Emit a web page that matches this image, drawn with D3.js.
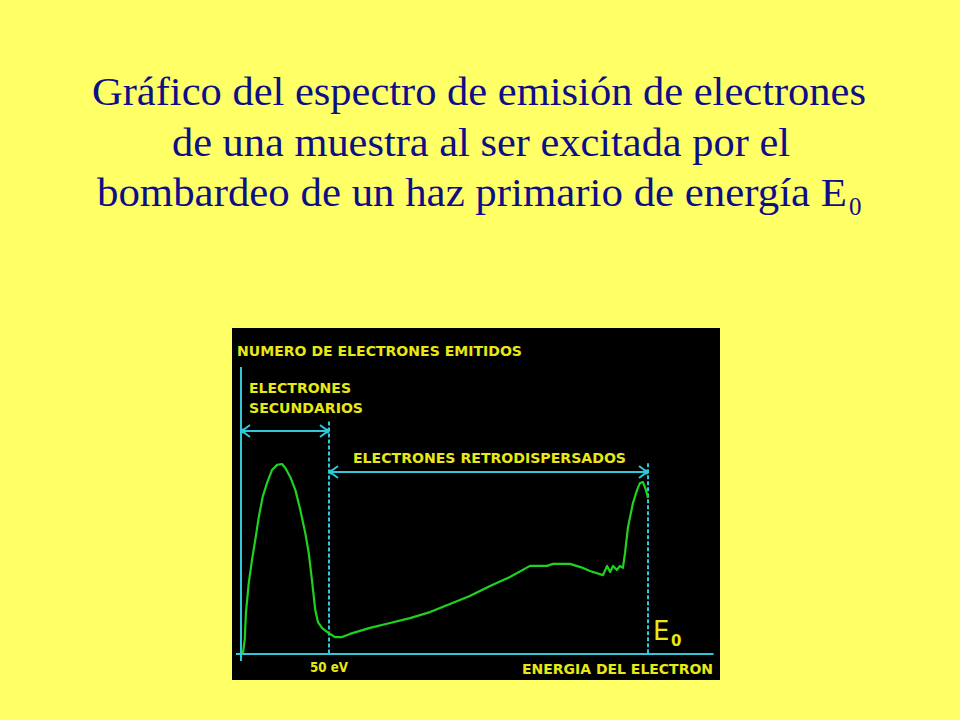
<!DOCTYPE html>
<html><head><meta charset="utf-8">
<script src="https://cdn.jsdelivr.net/npm/d3@7"></script>
<style>html,body{margin:0;padding:0;background:#ffff66;}svg{display:block;}</style>
</head><body>
<script>
// Energy (arbitrary units; 50 eV marker at 50, primary energy E0 at 231)
const energy = [1.1,2.1,2.8,4.4,6.25,8.1,10.1,12.3,14.8,17.6,20.5,23.3,25.2,28,30.9,33.7,36.5,38.5,40.3,42.2,43.75,46,49.8,53.4,57.4,61.9,73.3,84.7,96,107.4,118.75,130,141.5,152.8,164.2,173.9,177.3,186.9,194.3,198.3,205.7,208,209.7,211.4,213.6,215.3,217,218.2,219.9,222.7,225,226.7,228.4,230.1,231.25];
// Number of emitted electrons (arbitrary units)
const counts = [0.3,4.9,14.3,24.7,32.8,39.7,47.7,54.7,59.6,64.1,65.9,66.2,64.8,61.7,57.1,50.2,42.2,35.2,25.8,15.3,11.1,9.1,7.3,5.9,5.9,7,9.1,10.8,12.5,14.6,17.4,20.2,23.7,26.8,30.7,30.7,31.4,31.4,30,28.9,27.5,30.7,28.6,30.7,29.3,30.7,30,35.2,44.3,52.6,57.1,59.6,59.9,57.1,54.4];
const secondaryLimit = 50;
const E0 = 231.25;
const titleLines = ["Gráfico del espectro de emisión de electrones","de una muestra al ser excitada por el","bombardeo de un haz primario de energía E"];
const yAxisLabel = "NUMERO DE ELECTRONES EMITIDOS";
const xAxisLabel = "ENERGIA DEL ELECTRON";
const secLabel = ["ELECTRONES","SECUNDARIOS"];
const backLabel = "ELECTRONES RETRODISPERSADOS";
const tickLabel = "50 eV";

const W = 960, H = 720;
const svg = d3.select("body").append("svg").attr("width", W).attr("height", H);
svg.append("rect").attr("width", W).attr("height", H).attr("fill", "#ffff66");

// Title
const navy = "#0e0e86";
const titleSpec = [[92,866,105],[172,790,156],[97,847,206]];
titleLines.forEach((t,i)=>{
  const [x0,x1,yb] = titleSpec[i];
  svg.append("text").attr("x", x0).attr("y", yb)
    .attr("font-family","'Liberation Serif','Times New Roman',serif")
    .attr("font-size", 40).attr("fill", navy)
    .attr("textLength", x1-x0).attr("lengthAdjust","spacingAndGlyphs")
    .text(t);
});
svg.append("text").attr("x", 849).attr("y", 215)
  .attr("font-family","'Liberation Serif',serif").attr("font-size", 25).attr("fill", navy).text("0");

// Chart panel
svg.append("rect").attr("x",232).attr("y",328).attr("width",488).attr("height",352).attr("fill","#000");

const x = d3.scaleLinear().domain([0, 270]).range([241, 716.2]);
const y = d3.scaleLinear().domain([0, 100]).range([654, 367]);

const cyan = "#2ec8d8", green = "#1fd21f", yellow = "#e8e814";
const pix = "'DejaVu Sans','Liberation Sans',sans-serif";

// axes
svg.append("line").attr("x1", x(0)).attr("x2", x(0)).attr("y1", y(100)).attr("y2", y(0)+7)
  .attr("stroke", cyan).attr("stroke-width", 2);
svg.append("line").attr("x1", x(0)-5).attr("x2", x(268.5)).attr("y1", y(0)).attr("y2", y(0))
  .attr("stroke", cyan).attr("stroke-width", 2);

// dashed markers
svg.append("line").attr("x1", x(secondaryLimit)).attr("x2", x(secondaryLimit))
  .attr("y1", y(81)).attr("y2", y(0)).attr("stroke", cyan).attr("stroke-width", 2).attr("stroke-dasharray","4,2");
svg.append("line").attr("x1", x(E0)).attr("x2", x(E0))
  .attr("y1", y(66.5)).attr("y2", y(0)).attr("stroke", cyan).attr("stroke-width", 2).attr("stroke-dasharray","4,2");

function arrow(xa, xb, yy){
  const g = svg.append("g").attr("stroke", cyan).attr("stroke-width", 2).attr("fill","none");
  g.append("line").attr("x1", xa).attr("x2", xb).attr("y1", yy).attr("y2", yy);
  g.append("path").attr("d", `M${xa+9},${yy-6}L${xa+1},${yy}L${xa+9},${yy+6}`);
  g.append("path").attr("d", `M${xb-9},${yy-6}L${xb-1},${yy}L${xb-9},${yy+6}`);
  svg.append("circle").attr("cx", xa+2).attr("cy", yy).attr("r", 2.5).attr("fill", cyan);
  svg.append("circle").attr("cx", xb-2).attr("cy", yy).attr("r", 2.5).attr("fill", cyan);
}
arrow(x(0), x(secondaryLimit), y(77.7));
arrow(x(secondaryLimit), x(E0), y(63.4));

// curve
const pts = energy.map((e,i)=>[e, counts[i]]);
svg.append("path").datum(pts)
  .attr("d", d3.line().x(d=>x(d[0])).y(d=>y(d[1])))
  .attr("fill","none").attr("stroke", green).attr("stroke-width", 2.2).attr("stroke-linejoin","round");

// labels
function lab(t, x0, x1, yb, fs){
  svg.append("text").attr("x", x0).attr("y", yb).attr("font-family", pix).attr("font-weight","bold")
    .attr("font-size", fs||13.5).attr("fill", yellow)
    .attr("textLength", x1-x0).attr("lengthAdjust","spacingAndGlyphs").text(t);
}
lab(yAxisLabel, 237, 522, 355.5);
lab(secLabel[0], 249, 351, 392.5);
lab(secLabel[1], 249, 363, 412.5);
lab(backLabel, 353, 626, 462.5);
lab(tickLabel, 310, 348, 671.5);
lab(xAxisLabel, 522, 713, 673.5);
svg.append("text").attr("x", 653).attr("y", 640).attr("font-family", pix).attr("font-size", 26).attr("fill", yellow).text("E");
svg.append("text").attr("x", 671).attr("y", 646).attr("font-family", pix).attr("font-weight","bold").attr("font-size", 15).attr("fill", yellow).text("0");
</script>
</body></html>
